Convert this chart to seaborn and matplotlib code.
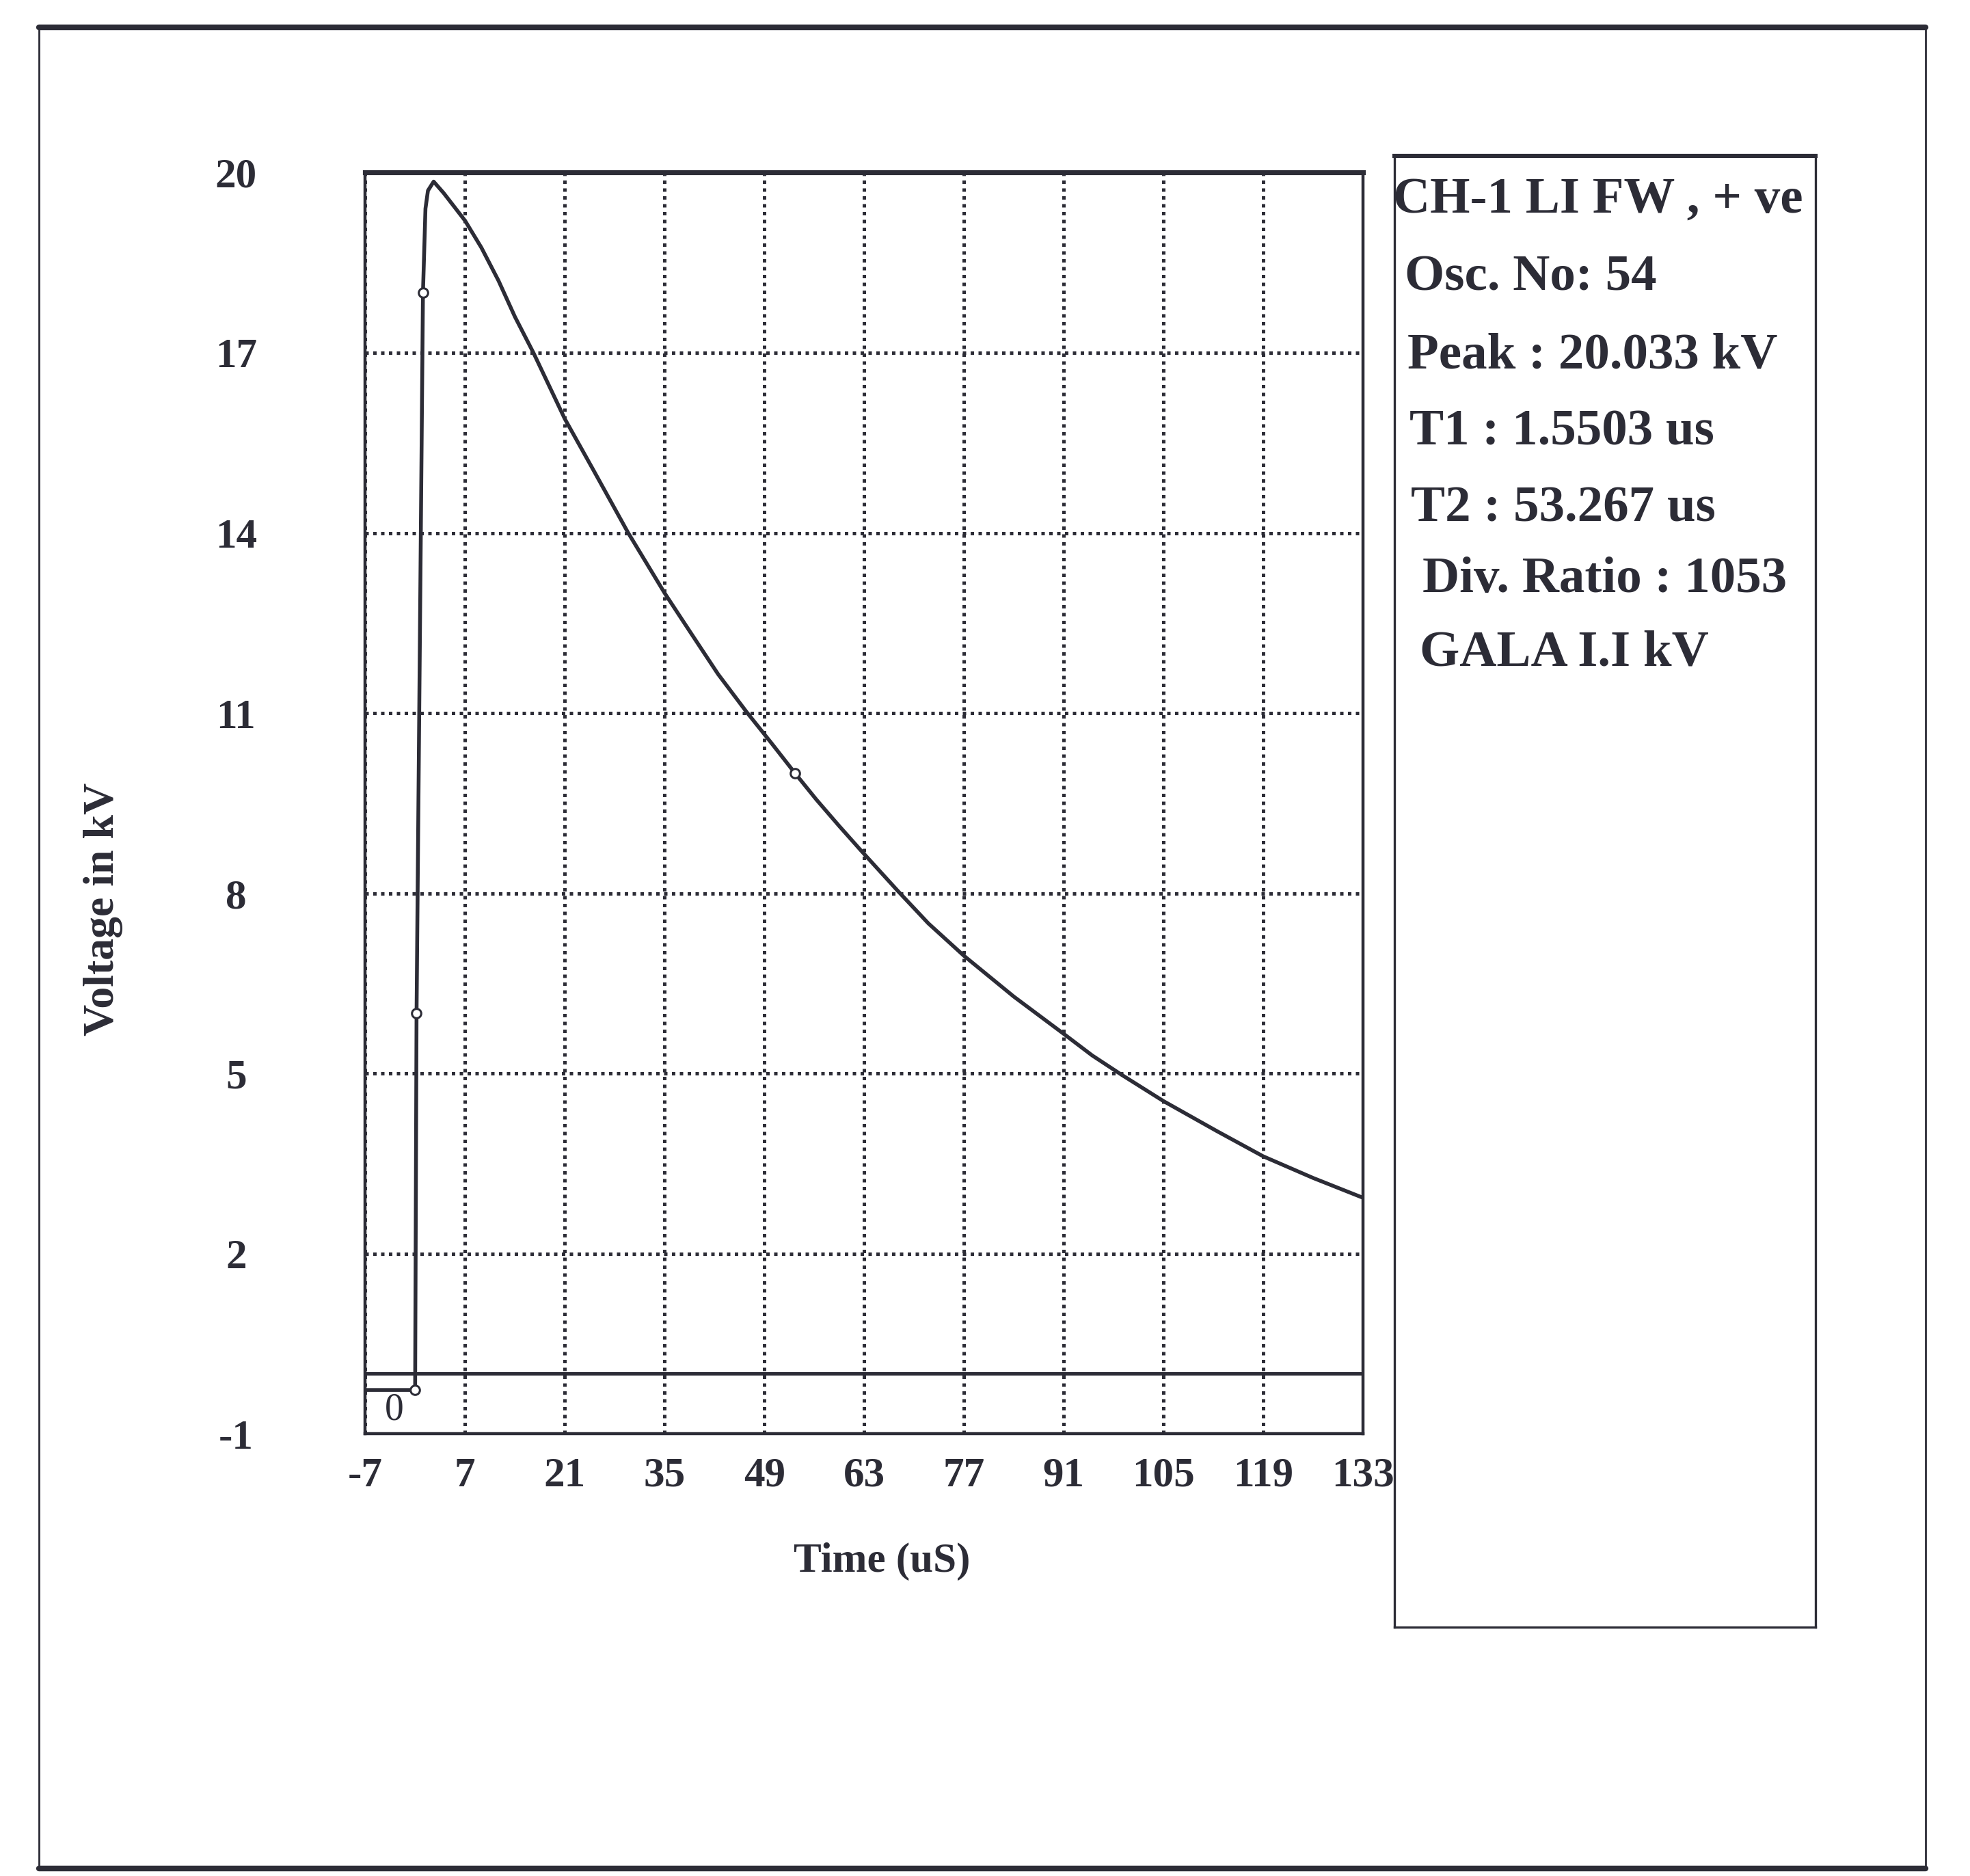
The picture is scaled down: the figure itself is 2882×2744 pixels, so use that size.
import numpy as np
import pandas as pd
import matplotlib
matplotlib.use("Agg")
import matplotlib.pyplot as plt
import seaborn as sns
from matplotlib.lines import Line2D

# waveform (time in us, voltage in kV)
time_us = [-7.0, 0.0, 0.2, 1.1, 1.45, 1.8, 2.6, 4.0, 7.0, 9.3, 11.7, 14.0, 16.6,
           18.8, 21.0, 25.0, 29.9, 35.0, 38.6, 42.5, 46.5, 50.0, 53.3, 56.3,
           59.5, 62.5, 67.8, 72.0, 77.0, 84.0, 91.0, 95.0, 99.1, 105.0, 112.5,
           119.0, 126.0, 133.0]
voltage_kv = [-0.27, -0.27, 6.0, 18.0, 19.4, 19.7, 19.85, 19.66, 19.2, 18.75, 18.2, 17.6, 17.0,
              16.45, 15.9, 15.05, 14.0, 13.0, 12.35, 11.65, 11.02, 10.5, 10.0, 9.56,
              9.12, 8.72, 8.03, 7.5, 6.96, 6.28, 5.66, 5.3, 4.98, 4.54, 4.04,
              3.62, 3.26, 2.93]

# points marked on the trace (start, 30 %, 90 %, half value)
mark_t = [0.0, 0.2, 1.1, 53.3]
mark_v = [-0.27, 6.0, 18.0, 10.0]

x_ticks = [-7, 7, 21, 35, 49, 63, 77, 91, 105, 119, 133]
y_ticks = [-1, 2, 5, 8, 11, 14, 17, 20]

info_lines = ["CH-1 LI FW , + ve", "Osc. No: 54", "Peak : 20.033 kV",
              "T1 : 1.5503 us", "T2 : 53.267 us", "Div. Ratio : 1053", "GALA I.I kV"]

ink = "#2c2c36"

sns.set_style("white")
plt.rcParams["font.family"] = ["Liberation Serif", "DejaVu Serif"]
plt.rcParams["font.weight"] = "bold"
plt.rcParams["axes.unicode_minus"] = False

df = pd.DataFrame({"t": time_us, "v": voltage_kv})
marks = pd.DataFrame({"t": mark_t, "v": mark_v})

fig = plt.figure(figsize=(14.41, 13.72), dpi=200)

# outer page frame
for xs, ys, lw in [([0.0198, 0.9774], [0.9853, 0.9853], 3.0),
                   ([0.0198, 0.9774], [0.004, 0.004], 3.0),
                   ([0.0198, 0.0198], [0.004, 0.9853], 1.0),
                   ([0.9774, 0.9774], [0.004, 0.9853], 1.0)]:
    fig.add_artist(Line2D(xs, ys, transform=fig.transFigure, color=ink, lw=lw))

ax = fig.add_axes([0.1854, 0.2357, 0.5065, 0.6723])
ax.set_xlim(-7, 133)
ax.set_ylim(-1, 20)
ax.set_xticks(x_ticks)
ax.set_yticks(y_ticks)
ax.grid(True, color=ink, linestyle=(0, (1, 1.3)), linewidth=1.8)
ax.axhline(0, color=ink, lw=1.8, zorder=2)

sns.lineplot(data=df, x="t", y="v", ax=ax, color=ink, lw=2.0,
             sort=False, estimator=None, zorder=3)
sns.scatterplot(data=marks, x="t", y="v", ax=ax, s=24, facecolor="white",
                edgecolor=ink, linewidth=1.1, zorder=4)
ax.text(-2.9, -0.6, "0", ha="center", va="center", fontsize=20,
        fontweight="normal", color=ink)

for side, sp in ax.spines.items():
    sp.set_color(ink)
    sp.set_linewidth(2.6 if side == "top" else 1.6)
    sp.set_visible(True)

ax.tick_params(axis="both", length=0, labelsize=22, colors=ink)
ax.tick_params(axis="x", pad=12)
ax.tick_params(axis="y", pad=68)
for lbl in ax.get_yticklabels():
    lbl.set_horizontalalignment("center")

ax.set_xlabel("Time (uS)", fontsize=22, fontweight="bold", color=ink)
ax.set_ylabel("Voltage in kV", fontsize=23, fontweight="bold", color=ink)
ax.xaxis.set_label_coords(0.518, -0.086)
ax.yaxis.set_label_coords(-0.243, 0.416)

# info box on the right
box = fig.add_axes([0.7079, 0.1326, 0.2137, 0.7843])
box.set_xticks([])
box.set_yticks([])
for side, sp in box.spines.items():
    sp.set_color(ink)
    sp.set_linewidth(2.2 if side == "top" else 1.2)

line_x = [-0.003, 0.024, 0.031, 0.036, 0.039, 0.067, 0.060]
line_y = [0.970, 0.917, 0.864, 0.812, 0.760, 0.712, 0.662]
for txt, lx, ly in zip(info_lines, line_x, line_y):
    box.text(lx, ly, txt, transform=box.transAxes, ha="left", va="center",
             fontsize=27, fontweight="bold", color=ink)

fig.savefig("out.png", dpi=200, facecolor="white")
